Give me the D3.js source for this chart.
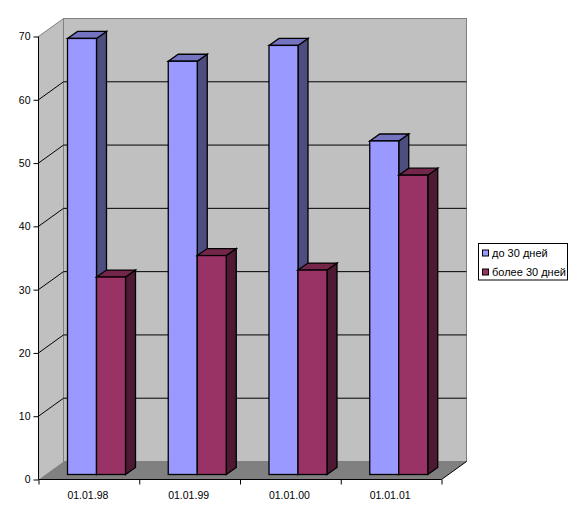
<!DOCTYPE html>
<html><head><meta charset="utf-8">
<script src="https://cdn.jsdelivr.net/npm/d3@7"></script>
<style>html,body{margin:0;padding:0;background:#fff}svg{display:block}text{font-family:"Liberation Sans",Arial,sans-serif;font-size:10px;fill:#000}</style>
</head><body><script>
const categories = ["01.01.98","01.01.99","01.01.00","01.01.01"];
const seriesNames = ["до 30 дней","более 30 дней"];
const upTo30 = [68.9,65.3,67.8,52.7];
const over30 = [31.2,34.6,32.3,47.3];
const yTicks = [0,10,20,30,40,50,60,70];
const seriesFront = ["#9999FF","#993366"];
const seriesTop = ["#7373BF","#732649"];
const seriesSide = ["#4D4D80","#4D1933"];

const svg = d3.select("body").append("svg").attr("width",578).attr("height",524);
const x = d3.scaleBand().domain(categories).range([38.5,441.5]);
const y = d3.scaleLinear().domain([0,70]).range([479.5,36.5]);
const wallDX = 25, wallDY = -18;
const barDX = 10, barDY = -7, barInX = 29, barW = 29, floorLift = 5;
const pts = a => a.map(p=>p.join(",")).join(" ");
const x0 = x.range()[0], x1 = x.range()[1], yB = y(0), yT = y(70);

// walls + floor
svg.append("polygon").attr("points",pts([[x0,yB],[x0,yT],[x0+wallDX,yT+wallDY],[x0+wallDX,yB+wallDY]])).attr("fill","#C0C0C0");
svg.append("rect").attr("x",x0+wallDX).attr("y",yT+wallDY).attr("width",x1-x0).attr("height",yB-yT).attr("fill","#C0C0C0")
  .attr("stroke","#808080").attr("stroke-width",1.5).attr("shape-rendering","crispEdges");
svg.append("line").attr("x1",x0).attr("y1",yT).attr("x2",x0+wallDX).attr("y2",yT+wallDY).attr("stroke","#808080");
svg.append("polygon").attr("points",pts([[x0,yB],[x1,yB],[x1+wallDX,yB+wallDY],[x0+wallDX,yB+wallDY]])).attr("fill","#808080");

// gridlines
yTicks.filter(t=>t>0 && t<70).forEach(t=>{
  svg.append("polyline").attr("points",pts([[x0,y(t)],[x0+wallDX,y(t)+wallDY],[x1+wallDX,y(t)+wallDY]]))
    .attr("fill","none").attr("stroke","#000").attr("stroke-width",1);
});
svg.append("line").attr("x1",x1).attr("y1",yB).attr("x2",x1+wallDX).attr("y2",yB+wallDY).attr("stroke","#000");

// bars
function bar(cat,val,s){
  const l = x(cat)+29 + s*barInX, r = l+barW, t = y(val)-floorLift, b = yB-floorLift;
  const g = svg.append("g").attr("stroke","#000").attr("stroke-width",1.3).attr("stroke-linejoin","miter");
  g.append("polygon").attr("points",pts([[r,t],[r+barDX,t+barDY],[r+barDX,b+barDY],[r,b]])).attr("fill",seriesSide[s]);
  g.append("polygon").attr("points",pts([[l,t],[l+barDX,t+barDY],[r+barDX,t+barDY],[r,t]])).attr("fill",seriesTop[s]);
  g.append("rect").attr("x",l).attr("y",t).attr("width",barW).attr("height",b-t).attr("fill",seriesFront[s]);
}
categories.forEach((c,i)=>{ bar(c,upTo30[i],0); bar(c,over30[i],1); });

// axes
const axL = d3.axisLeft(y).tickValues(yTicks).tickSize(5).tickPadding(3).tickFormat(d3.format("d"));
const gL = svg.append("g").attr("transform",`translate(${x0},0)`).call(axL);
const axB = d3.axisBottom(d3.scalePoint().domain(d3.range(categories.length+1)).range([x0,x1])).tickSize(5).tickFormat("");
const gB = svg.append("g").attr("transform",`translate(0,${yB})`).call(axB);
[gL,gB].forEach(g=>{g.selectAll("path").attr("d",null);});
svg.append("line").attr("x1",x0).attr("x2",x0).attr("y1",yT).attr("y2",yB).attr("stroke","#000");
svg.append("line").attr("x1",x0).attr("x2",x1).attr("y1",yB).attr("y2",yB).attr("stroke","#000");
gL.selectAll("text").style("font-family",'"Liberation Sans",Arial,sans-serif').style("font-size","10.5px");
svg.selectAll(".catLabel").data(categories).enter().append("text").attr("class","catLabel")
  .attr("x",d=>x(d)+x.bandwidth()/2-1).attr("y",499).attr("text-anchor","middle").style("font-size","10.5px").text(d=>d);

// legend
const lg = svg.append("g");
lg.append("rect").attr("x",478.5).attr("y",243.5).attr("width",89).attr("height",36.5).attr("fill","#fff").attr("stroke","#000");
seriesNames.forEach((n,i)=>{
  const yy = 253+i*19;
  lg.append("rect").attr("x",482.5).attr("y",yy-3).attr("width",6).attr("height",6).attr("fill",seriesFront[i]).attr("stroke","#000");
  lg.append("text").attr("x",492).attr("y",yy+3.5).style("font-size","11px").text(n);
});
</script></body></html>
